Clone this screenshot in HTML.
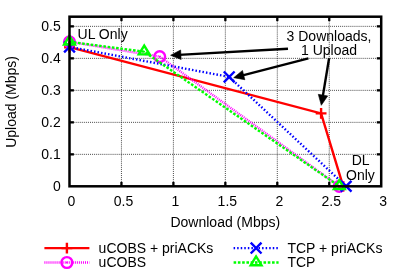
<!DOCTYPE html>
<html><head><meta charset="utf-8"><title>chart</title>
<style>html,body{margin:0;padding:0;background:#fff;}svg{display:block;will-change:transform;}text{font-family:"Liberation Sans",sans-serif;font-size:14px;fill:#000;}</style>
</head><body>
<svg width="407" height="274" viewBox="0 0 407 274">
<rect x="0" y="0" width="407" height="274" fill="#fff"/>
<g stroke="#000" stroke-width="0.72" stroke-dasharray="1 1.05" fill="none">
<line x1="121.45" y1="186.30" x2="121.45" y2="16.70"/>
<line x1="173.40" y1="186.30" x2="173.40" y2="16.70"/>
<line x1="225.35" y1="186.30" x2="225.35" y2="16.70"/>
<line x1="277.30" y1="186.30" x2="277.30" y2="16.70"/>
<line x1="329.25" y1="186.30" x2="329.25" y2="16.70"/>
<line x1="69.50" y1="154.35" x2="381.20" y2="154.35"/>
<line x1="69.50" y1="122.35" x2="381.20" y2="122.35"/>
<line x1="69.50" y1="90.35" x2="381.20" y2="90.35"/>
<line x1="69.50" y1="58.35" x2="381.20" y2="58.35"/>
<line x1="69.50" y1="26.35" x2="381.20" y2="26.35"/>
</g>
<text x="77.6" y="39.0">UL Only</text>
<text x="329" y="40.8" text-anchor="middle">3 Downloads,</text>
<text x="329" y="55.4" text-anchor="middle">1 Upload</text>
<text x="360.6" y="165.3" text-anchor="middle">DL</text>
<text x="360.4" y="179.7" text-anchor="middle">Only</text>
<line x1="288.00" y1="48.70" x2="178.89" y2="54.83" stroke="#000" stroke-width="2.4" stroke-linecap="butt"/>
<path d="M170.60 55.30 L180.62 49.98 L181.15 59.46 Z" fill="#000" stroke="#000" stroke-width="0.6" stroke-linejoin="round"/>
<line x1="308.40" y1="58.30" x2="241.73" y2="75.61" stroke="#000" stroke-width="2.4" stroke-linecap="butt"/>
<path d="M233.70 77.70 L242.48 70.51 L244.86 79.71 Z" fill="#000" stroke="#000" stroke-width="0.6" stroke-linejoin="round"/>
<line x1="329.10" y1="58.30" x2="322.66" y2="97.11" stroke="#000" stroke-width="2.4" stroke-linecap="butt"/>
<path d="M321.30 105.30 L318.30 94.36 L327.67 95.92 Z" fill="#000" stroke="#000" stroke-width="0.6" stroke-linejoin="round"/>
<path d="M69.50 47.20 L321.10 113.40 L343.20 186.30" stroke="#ff0000" stroke-width="2.4" fill="none" stroke-linejoin="miter"/>
<path d="M64.10 47.20 H74.90 M69.50 41.80 V52.60" stroke="#ff0000" stroke-width="2.4" fill="none"/>
<path d="M315.70 113.40 H326.50 M321.10 108.00 V118.80" stroke="#ff0000" stroke-width="2.4" fill="none"/>
<path d="M337.80 186.30 H348.60 M343.20 180.90 V191.70" stroke="#ff0000" stroke-width="2.4" fill="none"/>
<path d="M69.50 41.80 L159.70 56.60 L339.30 186.30" stroke="#ff00ff" stroke-width="2.4" fill="none" stroke-dasharray="1 1.03" stroke-linejoin="miter"/>
<circle cx="69.50" cy="41.80" r="5.40" stroke="#ff00ff" stroke-width="2.4" fill="none"/>
<circle cx="69.50" cy="41.80" r="0.9" fill="#ff00ff"/>
<circle cx="159.70" cy="56.60" r="5.40" stroke="#ff00ff" stroke-width="2.4" fill="none"/>
<circle cx="159.70" cy="56.60" r="0.9" fill="#ff00ff"/>
<circle cx="339.30" cy="186.30" r="5.40" stroke="#ff00ff" stroke-width="2.4" fill="none"/>
<circle cx="339.30" cy="186.30" r="0.9" fill="#ff00ff"/>
<path d="M69.50 46.90 L229.20 76.90 L346.10 186.30" stroke="#0000ff" stroke-width="2.4" fill="none" stroke-dasharray="1.5 2.06" stroke-linejoin="miter"/>
<path d="M64.10 41.50 L74.90 52.30 M64.10 52.30 L74.90 41.50" stroke="#0000ff" stroke-width="2.4" fill="none"/>
<path d="M223.80 71.50 L234.60 82.30 M223.80 82.30 L234.60 71.50" stroke="#0000ff" stroke-width="2.4" fill="none"/>
<path d="M340.70 180.90 L351.50 191.70 M340.70 191.70 L351.50 180.90" stroke="#0000ff" stroke-width="2.4" fill="none"/>
<path d="M69.50 41.80 L144.20 51.70 L339.30 186.30" stroke="#00ff00" stroke-width="2.4" fill="none" stroke-dasharray="2.6 1.67" stroke-linejoin="miter"/>
<path d="M69.50 35.75 L64.10 44.50 L74.90 44.50 Z" stroke="#00ff00" stroke-width="2.4" fill="none" stroke-linejoin="miter"/>
<circle cx="69.50" cy="41.80" r="0.9" fill="#00ff00"/>
<path d="M144.20 45.65 L138.80 54.40 L149.60 54.40 Z" stroke="#00ff00" stroke-width="2.4" fill="none" stroke-linejoin="miter"/>
<circle cx="144.20" cy="51.70" r="0.9" fill="#00ff00"/>
<path d="M339.30 180.25 L333.90 189.00 L344.70 189.00 Z" stroke="#00ff00" stroke-width="2.4" fill="none" stroke-linejoin="miter"/>
<circle cx="339.30" cy="186.30" r="0.9" fill="#00ff00"/>
<rect x="69.50" y="16.70" width="311.70" height="169.60" fill="none" stroke="#000" stroke-width="2.5"/>
<g stroke="#000" stroke-width="2.3">
<line x1="121.45" y1="186.30" x2="121.45" y2="181.90"/>
<line x1="121.45" y1="16.70" x2="121.45" y2="21.10"/>
<line x1="173.40" y1="186.30" x2="173.40" y2="181.90"/>
<line x1="173.40" y1="16.70" x2="173.40" y2="21.10"/>
<line x1="225.35" y1="186.30" x2="225.35" y2="181.90"/>
<line x1="225.35" y1="16.70" x2="225.35" y2="21.10"/>
<line x1="277.30" y1="186.30" x2="277.30" y2="181.90"/>
<line x1="277.30" y1="16.70" x2="277.30" y2="21.10"/>
<line x1="329.25" y1="186.30" x2="329.25" y2="181.90"/>
<line x1="329.25" y1="16.70" x2="329.25" y2="21.10"/>
<line x1="69.50" y1="154.35" x2="73.90" y2="154.35"/>
<line x1="381.20" y1="154.35" x2="376.80" y2="154.35"/>
<line x1="69.50" y1="122.35" x2="73.90" y2="122.35"/>
<line x1="381.20" y1="122.35" x2="376.80" y2="122.35"/>
<line x1="69.50" y1="90.35" x2="73.90" y2="90.35"/>
<line x1="381.20" y1="90.35" x2="376.80" y2="90.35"/>
<line x1="69.50" y1="58.35" x2="73.90" y2="58.35"/>
<line x1="381.20" y1="58.35" x2="376.80" y2="58.35"/>
<line x1="69.50" y1="26.35" x2="73.90" y2="26.35"/>
<line x1="381.20" y1="26.35" x2="376.80" y2="26.35"/>
</g>
<text x="60.7" y="191.15" text-anchor="end">0</text>
<text x="60.7" y="159.15" text-anchor="end">0.1</text>
<text x="60.7" y="127.15" text-anchor="end">0.2</text>
<text x="60.7" y="95.15" text-anchor="end">0.3</text>
<text x="60.7" y="63.15" text-anchor="end">0.4</text>
<text x="60.7" y="31.15" text-anchor="end">0.5</text>
<text x="71.50" y="205.7" text-anchor="middle">0</text>
<text x="123.45" y="205.7" text-anchor="middle">0.5</text>
<text x="175.40" y="205.7" text-anchor="middle">1</text>
<text x="227.35" y="205.7" text-anchor="middle">1.5</text>
<text x="279.30" y="205.7" text-anchor="middle">2</text>
<text x="331.25" y="205.7" text-anchor="middle">2.5</text>
<text x="383.20" y="205.7" text-anchor="middle">3</text>
<text x="225.3" y="226.7" text-anchor="middle">Download (Mbps)</text>
<text transform="translate(16.4,101.9) rotate(-90)" text-anchor="middle">Upload (Mbps)</text>
<path d="M44.4 248.10 H89.4" stroke="#ff0000" stroke-width="2.4"/>
<path d="M61.50 248.10 H72.30 M66.90 242.70 V253.50" stroke="#ff0000" stroke-width="2.4" fill="none"/>
<path d="M44.4 262.50 H89.4" stroke="#ff00ff" stroke-width="2.4" stroke-dasharray="1 1.03"/>
<circle cx="66.90" cy="262.50" r="5.40" stroke="#ff00ff" stroke-width="2.4" fill="none"/>
<circle cx="66.90" cy="262.50" r="0.9" fill="#ff00ff"/>
<path d="M233.6 248.10 H278.6" stroke="#0000ff" stroke-width="2.4" stroke-dasharray="1.5 2.06"/>
<path d="M250.70 242.70 L261.50 253.50 M250.70 253.50 L261.50 242.70" stroke="#0000ff" stroke-width="2.4" fill="none"/>
<path d="M233.6 262.50 H278.6" stroke="#00ff00" stroke-width="2.4" stroke-dasharray="2.6 1.67"/>
<path d="M256.10 256.45 L250.70 265.20 L261.50 265.20 Z" stroke="#00ff00" stroke-width="2.4" fill="none" stroke-linejoin="miter"/>
<circle cx="256.10" cy="262.50" r="0.9" fill="#00ff00"/>
<text x="98.6" y="253.2">uCOBS + priACKs</text>
<text x="98.6" y="267.3">uCOBS</text>
<text x="287.4" y="253.2">TCP + priACKs</text>
<text x="287.4" y="267.3">TCP</text>
</svg></body></html>
